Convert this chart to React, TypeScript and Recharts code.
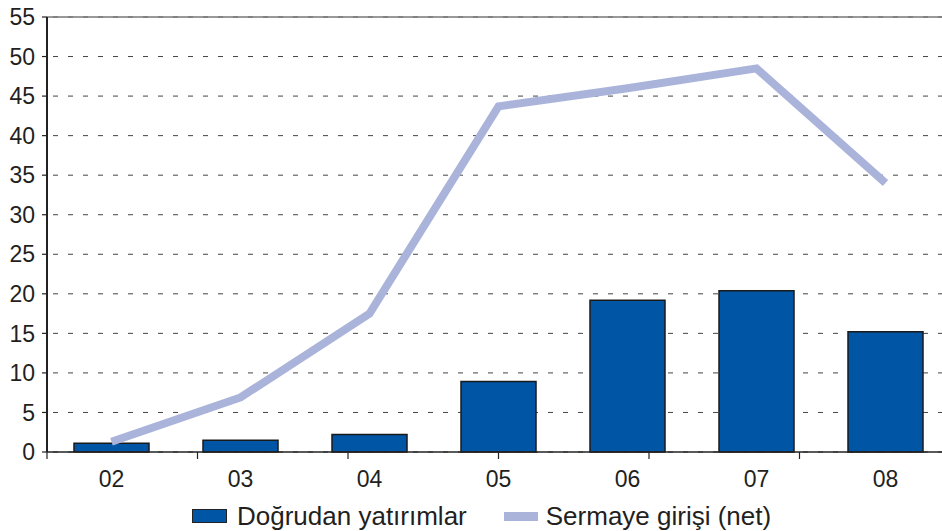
import React from 'react';
import { ComposedChart, Bar, Line, XAxis, YAxis, CartesianGrid, ReferenceLine, Legend } from 'recharts';

const categories = ['02', '03', '04', '05', '06', '07', '08'];
const dogrudanYatirimlar = [1.1, 1.5, 2.2, 8.9, 19.2, 20.4, 15.2];
const sermayeGirisi = [1.3, 6.9, 17.5, 43.7, 46.0, 48.5, 34.0];
const yTicks = [0, 5, 10, 15, 20, 25, 30, 35, 40, 45, 50, 55];
const boundaryTicks = [0, 1, 2, 3, 4, 5, 6];

const BAR_NAME = 'Doğrudan yatırımlar';
const LINE_NAME = 'Sermaye girişi (net)';

const data = categories.map((c, i) => ({
  cat: c,
  bar: dogrudanYatirimlar[i],
  line: sermayeGirisi[i],
}));

const FONT = '"Liberation Sans", Arial, Helvetica, sans-serif';
const BAR_COLOR = '#0055a4';
const LINE_COLOR = '#aab4da';

const EmptyTick = () => <g />;

const LegendContent = () => (
  <div
    style={{
      display: 'flex',
      alignItems: 'center',
      height: 30,
      paddingLeft: 192,
      fontFamily: FONT,
      fontSize: 26,
      color: '#231f20',
      boxSizing: 'border-box',
    }}
  >
    <span
      style={{
        display: 'inline-block',
        width: 33,
        height: 12,
        background: BAR_COLOR,
        border: '1px solid #222',
        marginRight: 10,
      }}
    />
    <span style={{ marginRight: 37 }}>{BAR_NAME}</span>
    <span
      style={{
        display: 'inline-block',
        width: 34,
        height: 9,
        background: LINE_COLOR,
        marginRight: 8,
      }}
    />
    <span>{LINE_NAME}</span>
  </div>
);

export default function App() {
  return (
    <div
      style={{
        position: 'absolute',
        left: 0,
        top: 0,
        width: 942,
        height: 531,
        overflow: 'hidden',
        background: '#fff',
      }}
    >
      <ComposedChart
        width={950}
        height={531}
        data={data}
        margin={{ top: 17, right: 0, bottom: 0, left: 0 }}
        style={{ fontFamily: FONT }}
      >
        <CartesianGrid
          xAxisId={1}
          vertical={false}
          stroke="#444"
          strokeDasharray="5 10"
          strokeDashoffset={-6}
        />
        <ReferenceLine xAxisId={1} y={55} stroke="#777" strokeWidth={1.5} />
        <XAxis
          xAxisId={0}
          type="number"
          domain={[0, 7]}
          ticks={boundaryTicks}
          interval={0}
          tick={EmptyTick}
          axisLine={{ stroke: '#222', strokeWidth: 1.5 }}
          tickLine={{ stroke: '#222', strokeWidth: 1.2 }}
          tickSize={7}
          height={2}
          allowDataOverflow
        />
        <XAxis
          xAxisId={1}
          dataKey="cat"
          tickLine={false}
          axisLine={false}
          tick={{ fill: '#231f20', fontSize: 23 }}
          tickMargin={11}
          height={47}
        />
        <YAxis
          domain={[0, 55]}
          ticks={yTicks}
          interval={0}
          width={47}
          tickSize={5}
          tickMargin={7}
          axisLine={{ stroke: '#222', strokeWidth: 2 }}
          tickLine={{ stroke: '#222', strokeWidth: 1.2 }}
          tick={{ fill: '#231f20', fontSize: 23 }}
        />
        <Bar
          xAxisId={1}
          dataKey="bar"
          name={BAR_NAME}
          fill={BAR_COLOR}
          stroke="#1a1a1a"
          strokeWidth={1.5}
          barSize={75}
          isAnimationActive={false}
        />
        <Line
          xAxisId={1}
          type="linear"
          dataKey="line"
          name={LINE_NAME}
          stroke={LINE_COLOR}
          strokeWidth={8}
          dot={false}
          activeDot={false}
          strokeLinejoin="miter"
          strokeLinecap="butt"
          isAnimationActive={false}
        />
        <Legend verticalAlign="bottom" height={30} content={<LegendContent />} />
      </ComposedChart>
    </div>
  );
}
